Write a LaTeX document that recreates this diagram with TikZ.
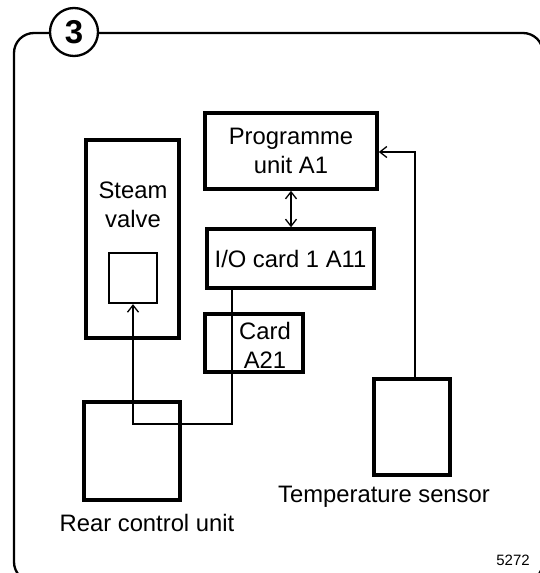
\documentclass[tikz,border=0pt]{standalone}
\usepackage{fontspec}
\setmainfont{Liberation Sans}
\usepackage{tikz}
\usetikzlibrary{arrows}
\usetikzlibrary{arrows.meta}
\newcommand{\lblfont}{\fontsize{23.8}{29}\selectfont}

\begin{document}
\begin{tikzpicture}[x=1pt,y=-1pt]
\tikzstyle{every node}=[font=\lblfont,align=center,inner sep=0pt]
\tikzstyle{unit}=[draw,line width=3.6pt,minimum width=#1]
\tikzstyle{wire}=[line width=1.3pt,arrows={-Straight Barb[length=7pt,width=11pt]}]
\useasboundingbox (0,0) rectangle (539,573);
\draw[line width=2.3pt,rounded corners=20pt] (14,33) rectangle (543,582);
\node[draw,circle,line width=2.3pt,fill=white,minimum size=48pt,font=\fontsize{33}{33}\bfseries] (num) at (74,32) {3};
\node[unit=93pt,minimum height=198pt] (steam) at (132.5,239) {};
\node (steamtxt) at (133,205) {Steam\\valve};
\node[draw,line width=2.3pt,minimum width=48pt,minimum height=50pt] (valvesq) at (133,278) {};
\node[unit=172pt,minimum height=76pt] (prog) at (291,151) {Programme\\unit A1};
\node[unit=167pt,minimum height=59pt] (io) at (290.5,258.5) {I/O card 1 A11};
\node[unit=98pt,minimum height=58pt] (card) at (254,343) {};
\node (cardtxt) at (265,345) {Card\\A21};
\node[unit=96pt,minimum height=98pt] (rear) at (132,451) {};
\node (reartxt) at (147,523) {Rear control unit};
\node[unit=76pt,minimum height=96pt] (temp) at (412,427) {};
\node (temptxt) at (384,497) {Temperature sensor};
\node[font=\fontsize{15}{15}\selectfont] (code) at (513,560) {5272};
\coordinate (tap) at (232,424);
\coordinate (turn) at (415,152);
\draw[wire,arrows={Straight Barb[length=7pt,width=11pt]-Straight Barb[length=7pt,width=11pt]}] (prog.south) -- (prog.south |- io.north);
\draw[wire] (io.south -| tap) -- (tap) -| (valvesq.south);
\draw[wire] (temp.north -| turn) -- (turn) -- (prog.east |- turn);
\end{tikzpicture}
\end{document}
